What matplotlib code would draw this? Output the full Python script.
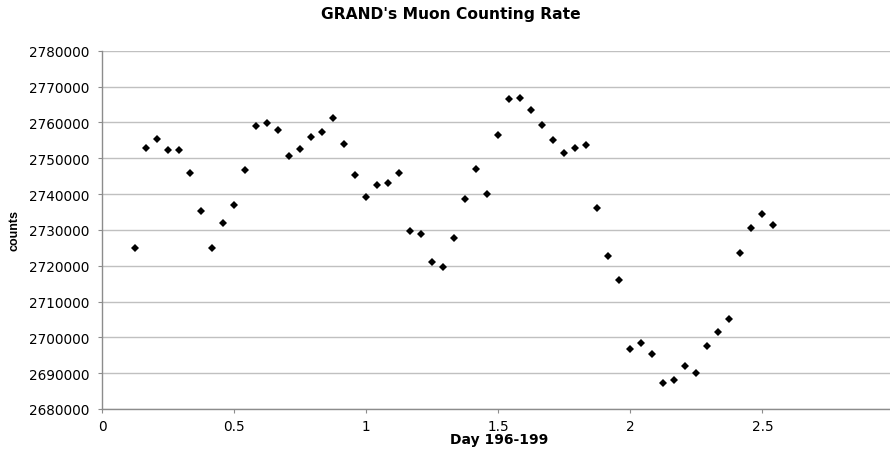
import matplotlib
matplotlib.use("Agg")
import matplotlib.pyplot as plt
from matplotlib.ticker import MultipleLocator, FormatStrFormatter

# Day (fraction of days since start of day 196)
days = [0.1250, 0.1667, 0.2083, 0.2500, 0.2917, 0.3333, 0.3750, 0.4167, 0.4583, 0.5000,
        0.5417, 0.5833, 0.6250, 0.6667, 0.7083, 0.7500, 0.7917, 0.8333, 0.8750, 0.9167,
        0.9583, 1.0000, 1.0417, 1.0833, 1.1250, 1.1667, 1.2083, 1.2500, 1.2917, 1.3333,
        1.3750, 1.4167, 1.4583, 1.5000, 1.5417, 1.5833, 1.6250, 1.6667, 1.7083, 1.7500,
        1.7917, 1.8333, 1.8750, 1.9167, 1.9583, 2.0000, 2.0417, 2.0833, 2.1250, 2.1667,
        2.2083, 2.2500, 2.2917, 2.3333, 2.3750, 2.4167, 2.4583, 2.5000, 2.5417]

counts = [2724900, 2752840, 2755270, 2752200, 2752200, 2745950, 2735260, 2724800, 2731910, 2736850,
          2746620, 2758900, 2759910, 2757870, 2750700, 2752560, 2755910, 2757310, 2761300, 2754040,
          2745390, 2739250, 2742430, 2742990, 2745780, 2729680, 2728750, 2720940, 2719550, 2727640,
          2738690, 2747070, 2740010, 2756560, 2766440, 2766710, 2763530, 2759260, 2755160, 2751530,
          2752840, 2753600, 2736180, 2722790, 2716000, 2696740, 2698420, 2695430, 2687170, 2688090,
          2692000, 2690130, 2697500, 2701570, 2705200, 2723620, 2730430, 2734420, 2731440]

x_ticks = [0, 0.5, 1, 1.5, 2, 2.5]
x_tick_labels = ["0", "0.5", "1", "1.5", "2", "2.5"]

fig = plt.figure(figsize=(8.9, 4.52), dpi=100)
ax = fig.add_axes([102.3/890, 1 - 410/452, (890 - 102.3)/890, (410 - 51.7)/452])

ax.plot(days, counts, linestyle="none", marker="D", markersize=4.5,
        color="black", markeredgewidth=0)

ax.set_xlim(0, 2.983)
ax.set_ylim(2680000, 2780000)
ax.set_xticks(x_ticks)
ax.set_xticklabels(x_tick_labels)
ax.yaxis.set_major_locator(MultipleLocator(10000))
ax.yaxis.set_major_formatter(FormatStrFormatter("%d"))

ax.grid(axis="y", color="#c0c0c0", linewidth=1.0)
ax.set_axisbelow(True)
for s in ["top", "right"]:
    ax.spines[s].set_visible(False)
for s in ["left", "bottom"]:
    ax.spines[s].set_color("#8c8c8c")
    ax.spines[s].set_linewidth(1.0)

ax.tick_params(axis="both", length=3, width=0.8, color="#8c8c8c",
               labelsize=9.8, labelcolor="black")
ax.tick_params(axis="y", pad=6)
ax.tick_params(axis="x", pad=4)

fig.text(451/890, 1 - 15/452, "GRAND's Muon Counting Rate", ha="center", va="center",
         fontsize=11.2, fontweight="bold")
fig.text(499/890, 1 - 440/452, "Day 196-199", ha="center", va="center",
         fontsize=10, fontweight="bold")
fig.text(15/890, 1 - 231/452, "counts", ha="center", va="center", rotation=90,
         fontsize=9, fontweight="bold", family="Liberation Sans")

fig.savefig("out.png", dpi=100)
